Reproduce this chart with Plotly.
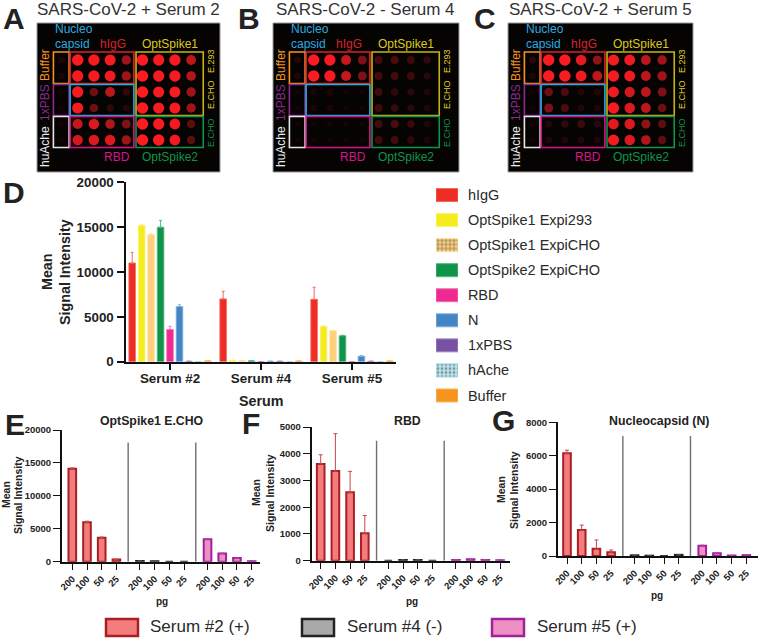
import plotly.graph_objects as go

W, H = 758, 638
FONT = "Liberation Sans"

# ---------- Microarray spot intensities: rows x columns (0 = Buffer/1xPBS/huAche column) ----------
spots_A = [
    [.08, 1, .95, .9, .5, 1, .95, .95, .6],
    [.06, .95, .95, .85, .5, 1, .95, .95, .55],
    [.03, .95, .35, .6, .15, 1, .9, .9, .5],
    [.03, .9, .35, .15, .1, 1, .9, .9, .5],
    [.03, .65, .75, .55, .4, 1, .95, .85, .3],
    [.02, .7, .75, .75, .5, 1, 1, .85, .3],
]
spots_B = [
    [.10, 1, .95, .65, .4, .22, .25, .2, .15],
    [.08, 1, .95, .65, .4, .22, .22, .2, .12],
    [.03, .06, .06, .03, .03, .2, .15, .12, .08],
    [.03, .06, .06, .03, .03, .2, .17, .12, .08],
    [.02, .03, .04, .04, .03, .22, .25, .18, .08],
    [.02, .03, .03, .03, .02, .2, .22, .15, .06],
]
spots_C = [
    [.12, 1, 1, .8, .45, .9, .85, .6, .5],
    [.08, 1, 1, .85, .6, .95, .85, .6, .5],
    [.03, .35, .25, .1, .1, .85, .7, .6, .4],
    [.03, .4, .25, .1, .08, .95, .75, .6, .35],
    [.02, .1, .15, .2, .12, .8, .75, .45, .3],
    [.02, .08, .08, .1, .08, .9, .75, .55, .3],
]
panel_titles = ["SARS-CoV-2 + Serum 2", "SARS-CoV-2 - Serum 4", "SARS-CoV-2 + Serum 5"]

# ---------- Panel D ----------
serum_labels = ["Serum #2", "Serum #4", "Serum #5"]
antigens = ["hIgG", "OptSpike1 Expi293", "OptSpike1 ExpiCHO", "OptSpike2 ExpiCHO",
            "RBD", "N", "1xPBS", "hAche", "Buffer"]
antigen_colors = ["#EE2E24", "#F4EC1F", "#FFD27F", "#0E9549", "#EE2A92",
                  "#4286C5", "#7851A3", "#BFE8F1", "#F7941E"]
antigen_edges = ["#F46A60", "#F8F27A", "#FFDFA5", "#5BB585", "#F26FB0",
                 "#85B3DD", "#A58FC6", "#9BDCE9", "#FBB76A"]
antigen_patterns = ["", "", "+", "", "", "", "", ".", ""]
antigen_values = [
    [11000, 7000, 6950],
    [15200, 150, 3950],
    [14150, 100, 3450],
    [15000, 100, 2900],
    [3600, 0, 0],
    [6150, 50, 620],
    [50, 50, 50],
    [0, 0, 0],
    [100, 80, 90],
]
antigen_errors = [
    [1200, 850, 1350],
    [100, 20, 50],
    [150, 20, 50],
    [750, 20, 50],
    [350, 0, 0],
    [200, 10, 50],
    [0, 0, 0],
    [0, 0, 0],
    [0, 0, 0],
]

# ---------- Panels E, F, G ----------
pg_labels = ["200", "100", "50", "25"]
serum_names = ["Serum #2 (+)", "Serum #4 (-)", "Serum #5 (+)"]
serum_fills = ["#F47C7C", "#A9A9A9", "#EE8FC4"]
serum_lines = ["#A81F24", "#222222", "#A0219B"]
serum_errs = ["#C8474F", "#555555", "#B040A8"]

E_values = [[14100, 6000, 3650, 350], [120, 50, 0, 0], [3400, 1250, 550, 80]]
E_errors = [[150, 150, 100, 50], [0, 0, 0, 0], [50, 50, 50, 0]]
F_values = [[3620, 3350, 2560, 1030], [0, 30, 30, 0], [30, 50, 30, 20]]
F_errors = [[340, 1400, 780, 660], [0, 0, 0, 0], [0, 0, 0, 0]]
G_values = [[6150, 1550, 430, 230], [40, 20, 0, 70], [620, 170, 30, 50]]
G_errors = [[180, 300, 530, 130], [0, 0, 0, 0], [30, 10, 0, 0]]


def px(x):
    return x / W


def py(y):
    return 1 - y / H


fig = go.Figure()
annotations, shapes = [], []
layout_axes = {}


def text(x, y, s, size, color="#222222", bold=False, angle=0, anchor="center"):
    annotations.append(dict(
        x=px(x), y=py(y), xref="paper", yref="paper", text=s, showarrow=False,
        textangle=angle, xanchor=anchor, yanchor="middle",
        font=dict(family=FONT, size=size, color=color, weight=700 if bold else 400),
    ))


def axes(n, x0, x1, y_top, y_bot, xopts, yopts):
    sx = "" if n == 1 else str(n)
    layout_axes[f"xaxis{sx}"] = dict(domain=[px(x0), px(x1)], anchor=f"y{sx}", automargin=False, **xopts)
    layout_axes[f"yaxis{sx}"] = dict(domain=[py(y_bot), py(y_top)], anchor=f"x{sx}", automargin=False, **yopts)
    return f"x{sx}", f"y{sx}"


# ---------- Panels A-C ----------
ORANGE, RED, YEL, BLUE, PURP, MAG, GRN = "#F7941E", "#D9232A", "#E8D81E", "#1FA3DC", "#8A2C92", "#D6158C", "#0E9549"
CYANT = "#29ABE2"
panel_lefts = [37, 273, 508]
panel_width = [183, 186, 185]
TOP, BOT = 23, 172
PITCHX, PITCHY = 16.2, 16.0
frames = [
    (ORANGE, -.5, .47, -.5, 1.47), (PURP, -.5, .47, 1.53, 3.47), ("#E6E6E6", -.5, .47, 3.53, 5.47),
    (RED, .53, 4.47, -.5, 1.47), (CYANT, .53, 4.47, 1.53, 3.47), (MAG, .53, 4.47, 3.53, 5.47),
    ("#C9B215", 4.6, 8.75, -.5, 3.47), (GRN, 4.6, 8.75, 3.53, 5.47),
]
for k, (spots, left, pw, title) in enumerate(zip([spots_A, spots_B, spots_C], panel_lefts, panel_width, panel_titles)):
    n = k + 1
    x0_local, y0_local = 24.5, 37
    xr = [-x0_local / PITCHX, (pw - x0_local) / PITCHX]
    yr = [(BOT - TOP - y0_local) / PITCHY, -y0_local / PITCHY]
    opts = dict(visible=False, fixedrange=True)
    xa, ya = axes(n, left, left + pw, TOP, BOT, dict(range=xr, **opts), dict(range=yr, **opts))
    shapes.append(dict(type="rect", xref=f"{xa} domain", yref=f"{ya} domain", x0=0, x1=1, y0=0, y1=1,
                       fillcolor="#060303", line=dict(color="#9A9A9A", width=1), layer="below"))
    xs, ys, cs, ss = [], [], [], []
    for r, row in enumerate(spots):
        for c, v in enumerate(row):
            xs.append(c); ys.append(r); cs.append(v); ss.append(6 + 5.5 * v ** 0.7)
    fig.add_trace(go.Scatter(
        x=xs, y=ys, mode="markers", xaxis=xa, yaxis=ya, hoverinfo="skip",
        marker=dict(size=ss, color=cs, cmin=0, cmax=1, line_width=0, opacity=1,
                    colorscale=[[0, "#0c0202"], [.25, "#4a0c0e"], [.55, "#b0161b"], [.85, "#f01a20"], [1, "#fb1c22"]]),
    ))
    for col, a, b, c, d in frames:
        shapes.append(dict(type="rect", xref=xa, yref=ya, x0=a, x1=b, y0=c, y1=d,
                           line=dict(color=col, width=1.6), fillcolor="rgba(0,0,0,0)"))
    text(left + pw / 2 - 0.5, 10, title, 17, "#333333")
    text(left + 16, 29, "Nucleo", 12, CYANT, anchor="left")
    text(left + 16, 44, "capsid", 12, CYANT, anchor="left")
    text(left + 61, 44, "hIgG", 12, RED, anchor="left")
    text(left + 103, 44, "OptSpike1", 12, "#D9CB1A", anchor="left")
    text(left + 65, 157, "RBD", 12, MAG, anchor="left")
    text(left + 103, 157, "OptSpike2", 12, GRN, anchor="left")
    text(left + 8, 65, "Buffer", 12, ORANGE, angle=-90)
    text(left + 8, 103, "1xPBS", 12, PURP, angle=-90)
    text(left + 8, 147, "huAche", 12, "#EDEDED", angle=-90)
    text(left + 174, 61, "E.293", 9, "#E0D41E", angle=-90)
    text(left + 174, 95, "E.CHO", 9, "#E0D41E", angle=-90)
    text(left + 174, 133, "E.CHO", 9, GRN, angle=-90)

# ---------- Panel D ----------
line_axis = dict(showline=True, linecolor="#111111", linewidth=2, ticks="outside", tickcolor="#111111",
                 showgrid=False, zeroline=False, fixedrange=True)
D_x, D_y = axes(
    4, 126, 396, 182.3, 361.7,
    dict(range=[-0.484, 2.484], tickvals=[0, 1, 2], ticktext=serum_labels, ticklen=6, tickwidth=1.5,
         ticklabelstandoff=-3,
         tickfont=dict(family=FONT, size=13.4, color="#222222", weight=700), **line_axis),
    dict(range=[0, 20000], tickvals=[0, 5000, 10000, 15000, 20000], tickformat="d", ticklen=7.5, tickwidth=1.5,
         tickfont=dict(family=FONT, size=13.4, color="#222222", weight=700), **line_axis),
)
for name, vals, errs, col, edge, pat in zip(antigens, antigen_values, antigen_errors,
                                            antigen_colors, antigen_edges, antigen_patterns):
    fig.add_trace(go.Bar(
        x=[0, 1, 2], y=vals, name=name, xaxis=D_x, yaxis=D_y, offsetgroup=name,
        marker=dict(color=col, line=dict(color=edge, width=0.8),
                    pattern=dict(shape=pat, fgcolor="#F9C860", size=3, solidity=.4) if pat else None),
        error_y=dict(type="data", array=errs, arrayminus=[0, 0, 0], symmetric=False,
                     color=edge, thickness=1, width=1.5),
    ))
text(47, 272, "Mean", 14.3, bold=True, angle=-90)
text(65, 272, "Signal Intensity", 14.3, bold=True, angle=-90)
text(261, 401, "Serum", 14.3, bold=True)

# ---------- Legend of panel D, drawn as a small bar axis ----------
L_x, L_y = axes(
    5, 436, 458, 182.5, 408,
    dict(range=[0, 1], visible=False, fixedrange=True),
    dict(autorange="reversed", side="right", type="category", showline=False, showgrid=False, zeroline=False,
         ticks="outside", ticklen=6, tickcolor="rgba(0,0,0,0)", fixedrange=True,
         tickfont=dict(family=FONT, size=14.5, color="#2a2a2a")),
)
fig.add_trace(go.Bar(
    y=antigens, x=[1] * len(antigens), orientation="h", xaxis=L_x, yaxis=L_y, width=.52, hoverinfo="skip",
    marker=dict(color=antigen_colors, line=dict(color=antigen_edges, width=1),
                pattern=dict(shape=antigen_patterns, fgcolor=["#fff"] * 2 + ["#FBC34E"] + ["#fff"] * 6,
                             size=4, solidity=.45)),
))

# ---------- Panels E, F, G ----------
GROUP_STEP = 4.6


def dose_panel(n, x_axis, x_end, y_top, y_bot, ymax, yticks, values, errors, sep_top, first_tick, tick_size=9.5):
    pitch = 14.7
    xr = [(x_axis - first_tick) / pitch, (x_end - first_tick) / pitch]
    tickvals, ticktext = [], []
    for g in range(3):
        for i, lab in enumerate(pg_labels):
            tickvals.append(g * GROUP_STEP + i)
            ticktext.append(lab)
    tf = dict(family=FONT, size=tick_size, color="#222222", weight=700)
    xa, ya = axes(
        n, x_axis, x_end, y_top, y_bot,
        dict(range=xr, tickvals=tickvals, ticktext=ticktext, tickangle=-45, ticklen=6, tickwidth=1.3,
             tickfont=tf, **line_axis),
        dict(range=[0, ymax], tickvals=yticks, tickformat="d", ticklen=7, tickwidth=1.3, tickfont=tf, **line_axis),
    )
    for g in range(3):
        fig.add_trace(go.Bar(
            x=[g * GROUP_STEP + i for i in range(4)], y=values[g], xaxis=xa, yaxis=ya, width=.52,
            name=serum_names[g],
            marker=dict(color=serum_fills[g], line=dict(color=serum_lines[g], width=2)),
            error_y=dict(type="data", array=errors[g], arrayminus=[0] * 4, symmetric=False,
                         color=serum_errs[g], thickness=1, width=2),
        ))
    for g in (1, 2):
        sx = g * GROUP_STEP - 0.8
        shapes.append(dict(type="line", xref=xa, yref=ya, x0=sx, x1=sx, y0=0, y1=sep_top,
                           line=dict(color="#6f6f6f", width=1.4)))


dose_panel(6, 62, 260, 430, 561.7, 20000, [0, 5000, 10000, 15000, 20000], E_values, E_errors, 18100, 72.3)
dose_panel(7, 311.7, 510, 427, 560.7, 5000, [0, 1000, 2000, 3000, 4000, 5000], F_values, F_errors, 4490, 320.7)
dose_panel(8, 558, 758, 422.3, 556, 8000, [0, 2000, 4000, 6000, 8000], G_values, G_errors, 7180, 567)

text(152, 421, "OptSpike1 E.CHO", 12.3, bold=True)
text(407, 421, "RBD", 12.3, bold=True)
text(659, 421, "Nucleocapsid (N)", 12.3, bold=True)
for mx, sx, cy in [(6, 18, 495), (256, 270, 493), (501, 514, 490)]:
    text(mx, cy, "Mean", 10.5, bold=True, angle=-90)
    text(sx, cy, "Signal Intensity", 10.5, bold=True, angle=-90)
text(162, 601, "pg", 10, bold=True)
text(412, 601, "pg", 10, bold=True)
text(657, 595, "pg", 10, bold=True)

# ---------- Bottom legend ----------
for name, fill, edge, sw, tx in zip(serum_names, serum_fills, serum_lines, [106, 302, 492], [148, 345, 535]):
    shapes.append(dict(type="rect", xref="paper", yref="paper", x0=px(sw), x1=px(sw + 32), y0=py(636), y1=py(619),
                       fillcolor=fill, line=dict(color=edge, width=2.5)))
    text(tx, 626.5, name, 17, "#2a2a2a", anchor="left")

# ---------- Panel letters ----------
for s, x, y in [("A", 14, 19), ("B", 249, 18), ("C", 485, 18), ("D", 14, 192), ("E", 15, 424), ("F", 251, 423), ("G", 503, 420)]:
    text(x, y, s, 30, "#222222", bold=True)

fig.update_layout(
    width=W, height=H, autosize=False, margin=dict(l=0, r=0, t=0, b=0),
    paper_bgcolor="white", plot_bgcolor="rgba(0,0,0,0)", showlegend=False,
    barmode="group", bargap=0.064, bargroupgap=0.3,
    font=dict(family=FONT), annotations=annotations, shapes=shapes, **layout_axes,
)
fig.write_html("out.html", config=dict(displayModeBar=False),
               post_script="document.body.style.margin='0';document.body.style.overflow='hidden';")
